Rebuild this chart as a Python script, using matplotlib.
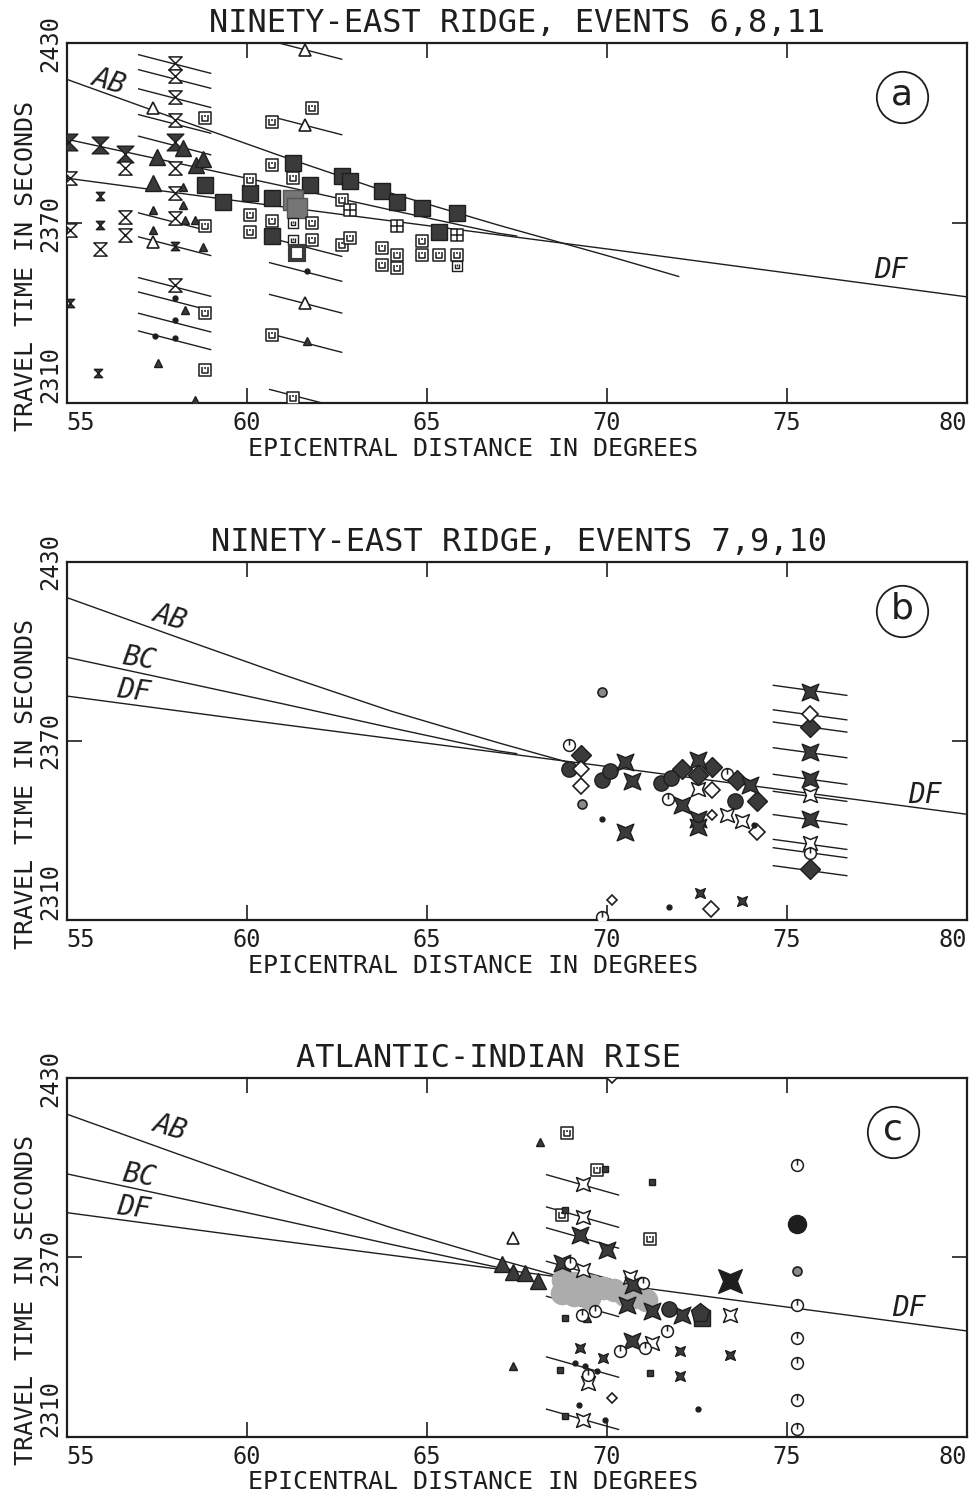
import numpy as np
import matplotlib
matplotlib.use("Agg")
import matplotlib.pyplot as plt
from matplotlib.path import Path

plt.rcParams['font.family'] = ['DejaVu Sans Mono', 'DejaVu Sans']
INK = '#1e1e1e'
SHADE = '#3a3a3a'

# --- travel time curves (distance in degrees, time in seconds) ---
AB_D = [55, 58, 61, 64, 67, 70, 72]
AB_T = [2418.0, 2405.0, 2392.2, 2380.0, 2369.3, 2359.2, 2352.2]
BC_D = [55, 58, 61, 64, 67, 67.5]
BC_T = [2398.0, 2390.2, 2382.4, 2374.4, 2366.6, 2365.7]
DF_D = [55, 60, 65, 70, 75, 80]
DF_T = [2385.0, 2377.0, 2369.2, 2361.4, 2353.4, 2345.4]
AB_END = [72.0, 69.0, 68.8]

# --- panel a: Ninety-East Ridge, events 6,8,11 ---
A_HG_BIG = [(55.07, 2397.0), (55.92, 2396.0), (56.62, 2393.0), (58.0, 2397.2)]
A_HG_SMALL = [(55.92, 2378.9), (55.92, 2369.4), (55.1, 2343.3), (55.88, 2320.0), (58.0, 2362.3)]
A_HG_OPEN = [(58.0, 2423.3), (58.0, 2419.0), (58.0, 2412.2), (58.0, 2404.4), (58.0, 2388.3),
             (58.0, 2380.0), (58.0, 2371.7), (58.0, 2349.4), (55.08, 2385.0), (55.08, 2367.8),
             (56.62, 2388.3), (56.62, 2372.2), (56.62, 2366.1), (55.92, 2361.4)]
A_TRI_BIG = [(57.5, 2392.2), (57.4, 2383.3), (58.24, 2395.0), (58.6, 2389.4), (58.8, 2391.3)]
A_TRI_SMALL = [(58.24, 2382.2), (58.24, 2376.1), (57.4, 2374.5), (57.4, 2367.8), (58.3, 2371.0),
               (58.56, 2371.1), (58.8, 2362.2), (58.29, 2341.1), (57.55, 2323.3), (58.56, 2311.1),
               (61.67, 2330.6)]
A_TRI_OPEN = [(57.4, 2408.3), (57.4, 2363.6), (61.62, 2427.8), (61.62, 2402.8), (61.62, 2343.3)]
A_SQ_BIG = [(58.84, 2382.6), (59.35, 2377.2), (60.1, 2380.0), (60.7, 2378.4), (60.7, 2365.6),
            (61.3, 2390.0), (61.76, 2382.8), (62.64, 2385.6), (62.87, 2383.9), (63.75, 2380.6),
            (64.17, 2377.2), (64.86, 2375.0), (65.84, 2373.4), (65.33, 2367.2)]
A_SQ_GREY = [(61.3, 2377.8), (61.4, 2375.0)]
A_SQ_OPEN = [(58.84, 2405.0), (58.84, 2369.0), (58.84, 2340.0), (58.84, 2321.1), (60.7, 2403.9),
             (61.81, 2408.3), (60.7, 2389.5), (61.3, 2385.0), (60.1, 2384.5), (60.1, 2372.8),
             (60.1, 2367.2), (60.7, 2370.6), (61.81, 2370.0), (61.81, 2364.5), (62.64, 2377.8),
             (62.64, 2362.8), (62.87, 2365.0), (63.75, 2361.7), (63.75, 2356.1), (64.17, 2359.5),
             (64.17, 2355.0), (64.86, 2363.9), (64.86, 2359.5), (65.33, 2359.5), (65.84, 2359.5),
             (60.7, 2332.8), (61.3, 2311.5)]
A_SQ_SOPEN = [(61.3, 2370.0), (61.3, 2364.5), (65.84, 2355.6)]
A_SQ_PLUS = [(62.87, 2374.5), (64.17, 2368.9), (65.84, 2366.1)]
A_SQ_RING = [(61.39, 2360.0)]
A_DOT = [(58.0, 2345.0), (58.0, 2337.8), (58.0, 2331.7), (61.67, 2353.9), (57.45, 2332.2)]
A_SEG = [(58.0, 2423.1), (58.0, 2418.1), (58.0, 2411.7), (58.0, 2403.1), (58.0, 2395.9),
         (58.0, 2370.3), (58.0, 2362.3), (58.0, 2348.7), (58.0, 2343.9), (58.0, 2336.8),
         (58.0, 2330.9), (61.64, 2427.8), (61.64, 2402.6), (61.64, 2362.0), (61.64, 2353.7),
         (61.64, 2343.1), (61.64, 2330.0), (61.64, 2311.4)]

# --- panel b: Ninety-East Ridge, events 7,9,10 ---
B_CIRC_OPEN = [(68.95, 2368.5), (73.34, 2359.0), (71.7, 2350.6), (69.86, 2311.1), (75.65, 2332.3)]
B_CIRC_DOT = [(69.86, 2386.4), (69.31, 2349.0)]
B_CIRC_FILL = [(68.95, 2360.7), (69.86, 2357.0), (70.1, 2359.8), (71.5, 2356.0), (71.8, 2357.6),
               (73.57, 2350.0)]
B_DIA_FILL = [(69.28, 2365.2), (72.09, 2360.7), (72.92, 2361.2), (72.55, 2358.4), (73.61, 2356.8),
              (74.17, 2350.0), (75.65, 2374.6), (75.65, 2327.1)]
B_DIA_OPEN = [(69.3, 2360.7), (69.3, 2355.0), (72.92, 2353.4), (74.17, 2339.4), (72.89, 2313.7),
              (75.65, 2379.1)]
B_DIA_SMALL = [(70.14, 2316.7), (72.92, 2345.0)]
B_STAR_FILL = [(70.51, 2362.9), (70.7, 2356.5), (72.09, 2348.4), (72.55, 2363.5), (72.55, 2343.9),
               (72.55, 2341.1), (73.98, 2355.1), (70.51, 2339.4), (75.65, 2386.4), (75.65, 2366.2),
               (75.65, 2357.3), (75.65, 2343.9)]
B_STAR_OPEN = [(72.55, 2354.0), (73.34, 2345.0), (73.75, 2343.3), (75.65, 2335.7), (75.65, 2351.7)]
B_STAR_SMALL = [(72.58, 2318.9), (73.75, 2316.2)]
B_DOT = [(69.86, 2343.7), (71.72, 2314.2), (74.08, 2341.7)]
B_SEG = [(75.65, 2386.9), (75.65, 2378.7), (75.65, 2374.6), (75.65, 2366.0), (75.65, 2357.1),
         (75.65, 2351.4), (75.65, 2343.6), (75.65, 2335.3), (75.65, 2332.5), (75.65, 2326.5)]

# --- panel c: Atlantic-Indian Rise ---
C_BLOB = [(68.8, 2362.5), (69.1, 2361.5), (69.3, 2360.0), (69.6, 2360.5), (69.9, 2359.6),
          (70.2, 2359.2), (70.5, 2357.5), (70.8, 2356.8), (71.1, 2355.8), (68.75, 2358.0),
          (69.1, 2357.5), (69.5, 2356.5)]
C_TRI_BIG = [(67.1, 2367.8), (67.41, 2365.0), (67.73, 2364.8), (68.1, 2362.0)]
C_TRI_SMALL = [(68.15, 2408.8), (67.41, 2333.5), (69.45, 2349.7)]
C_TRI_OPEN = [(67.41, 2376.5)]
C_SQ_OPEN = [(68.89, 2411.6), (69.73, 2399.3), (68.75, 2384.3), (71.21, 2376.1)]
C_SQ_SMALL = [(69.96, 2399.5), (71.25, 2395.1), (68.85, 2349.7), (71.21, 2331.3), (68.71, 2332.4),
              (68.85, 2316.8), (68.85, 2386.0)]
C_SQ_BIG = [(72.64, 2349.7)]
C_PENT = [(72.6, 2351.4)]
C_STAR_OPEN = [(69.35, 2394.6), (69.35, 2383.5), (69.35, 2365.9), (70.65, 2363.6), (71.25, 2341.4),
               (69.49, 2328.0), (69.35, 2315.7), (73.43, 2350.8)]
C_STAR_FILL = [(69.26, 2377.6), (70.0, 2372.6), (68.75, 2368.1), (70.74, 2360.9), (70.56, 2354.2),
               (71.25, 2352.0), (72.09, 2350.8), (70.7, 2341.9)]
C_STAR_BIG = [(73.43, 2362.0)]
C_STAR_SMALL = [(69.26, 2339.7), (69.91, 2336.3), (72.04, 2338.6), (72.04, 2330.2), (73.43, 2337.4)]
C_CIRC_OPEN = [(68.98, 2368.1), (69.31, 2350.8), (69.68, 2352.0), (71.67, 2345.3), (70.37, 2338.6),
               (71.07, 2339.7), (69.49, 2330.8), (71.0, 2361.3), (75.3, 2401.0), (75.3, 2354.2),
               (75.3, 2343.0), (75.3, 2334.6), (75.3, 2322.4), (75.3, 2312.4)]
C_CIRC_FILL = [(71.72, 2352.7)]
C_CIRC_BIG = [(75.3, 2381.3)]
C_CIRC_DOT = [(75.3, 2365.3)]
C_DOT = [(69.12, 2334.7), (69.4, 2333.8), (69.73, 2331.9), (69.22, 2320.7), (72.55, 2319.2),
         (69.96, 2315.5)]
C_DIA_SMALL = [(70.14, 2322.9), (70.14, 2430.0)]
C_SEG = [(69.33, 2394.3), (69.33, 2383.5), (69.33, 2376.5), (69.33, 2365.3), (69.33, 2353.6),
         (69.33, 2333.3), (69.33, 2315.8)]

TITLES = ['NINETY-EAST RIDGE, EVENTS 6,8,11', 'NINETY-EAST RIDGE, EVENTS 7,9,10',
          'ATLANTIC-INDIAN RISE']
TITLE_X = [0.5, 0.503, 0.469]
LETTERS = ['a', 'b', 'c']
LETTER_POS = [(78.2, 2412.0), (78.2, 2413.5), (77.95, 2412.0)]
SEG_SLOPE = [-3.1, -1.65, -3.4]
SEG_HALF = [1.0, 1.02, 1.0]
DF_RIGHT_POS = [(77.9, 2354.5), (78.85, 2352.0), (78.4, 2353.0)]

# --- marker shapes ---
HOURGLASS = Path([(-1, 1), (1, 1), (-1, -1), (1, -1), (-1, 1)],
                 [Path.MOVETO, Path.LINETO, Path.LINETO, Path.LINETO, Path.CLOSEPOLY])
STAR4 = Path([(1, 1), (0, 0.58), (-1, 1), (-0.58, 0), (-1, -1), (0, -0.58), (1, -1), (0.58, 0), (1, 1)],
             [Path.MOVETO] + [Path.LINETO] * 7 + [Path.CLOSEPOLY])
SQ_NOTCH = Path([(-1, -1), (1, -1), (1, 1), (-1, 1), (-1, -1),
                 (-0.5, 0.55), (-0.5, -0.4), (0.5, -0.4), (0.5, 0.55), (0, 0.55), (0, 0.1)],
                [Path.MOVETO, Path.LINETO, Path.LINETO, Path.LINETO, Path.CLOSEPOLY,
                 Path.MOVETO, Path.LINETO, Path.LINETO, Path.LINETO, Path.MOVETO, Path.LINETO])
SQ_PLUS = Path([(-1, -1), (1, -1), (1, 1), (-1, 1), (-1, -1), (-1, 0), (1, 0), (0, -1), (0, 1)],
               [Path.MOVETO, Path.LINETO, Path.LINETO, Path.LINETO, Path.CLOSEPOLY,
                Path.MOVETO, Path.LINETO, Path.MOVETO, Path.LINETO])
_circ = Path.unit_circle()
CIRC_TICK = Path(np.vstack([_circ.vertices, [(0, 0), (0, 1)]]),
                 list(_circ.codes) + [Path.MOVETO, Path.LINETO])

STYLES = {
    'blob': dict(marker='o', ms=17, mfc='#acacac', mec='none', mew=0),
    'hg_big': dict(marker=HOURGLASS, ms=12, mfc=SHADE, mec=INK, mew=1),
    'hg_small': dict(marker=HOURGLASS, ms=6, mfc=SHADE, mec=INK, mew=1),
    'hg_open': dict(marker=HOURGLASS, ms=9.5, mfc='white', mec=INK, mew=1.1),
    'tri_big': dict(marker='^', ms=12, mfc=SHADE, mec=INK, mew=1),
    'tri_small': dict(marker='^', ms=6, mfc=SHADE, mec=INK, mew=1),
    'tri_open': dict(marker='^', ms=8, mfc='white', mec=INK, mew=1.2),
    'sq_big': dict(marker='s', ms=12, mfc=SHADE, mec=INK, mew=1),
    'sq_grey': dict(marker='s', ms=14, mfc='#767676', mec='#555555', mew=1),
    'sq_open': dict(marker=SQ_NOTCH, ms=9, mfc='white', mec=INK, mew=1.1),
    'sq_sopen': dict(marker=SQ_NOTCH, ms=6.5, mfc='white', mec=INK, mew=1),
    'sq_plus': dict(marker=SQ_PLUS, ms=9, mfc='white', mec=INK, mew=1.1),
    'sq_ring': dict(marker='s', ms=10, mfc='white', mec=SHADE, mew=3),
    'sq_small': dict(marker='s', ms=4.5, mfc=SHADE, mec=INK, mew=1),
    'dot': dict(marker='o', ms=3.5, mfc=INK, mec=INK, mew=1),
    'circ_open': dict(marker=CIRC_TICK, ms=8.5, mfc='white', mec=INK, mew=1.1),
    'circ_dot': dict(marker='o', ms=6.5, mfc='#8a8a8a', mec=INK, mew=1.2),
    'circ_fill': dict(marker='o', ms=11, mfc=SHADE, mec=INK, mew=1),
    'circ_big': dict(marker='o', ms=13, mfc=INK, mec=INK, mew=1),
    'dia_fill': dict(marker='D', ms=10, mfc=SHADE, mec=INK, mew=1),
    'dia_open': dict(marker='D', ms=8.5, mfc='white', mec=INK, mew=1.2),
    'dia_small': dict(marker='D', ms=5.5, mfc='white', mec=INK, mew=1.2),
    'star_fill': dict(marker=STAR4, ms=12, mfc=SHADE, mec=INK, mew=1),
    'star_open': dict(marker=STAR4, ms=10, mfc='white', mec=INK, mew=1.1),
    'star_small': dict(marker=STAR4, ms=7, mfc=SHADE, mec=INK, mew=1),
    'star_big': dict(marker=STAR4, ms=17, mfc=INK, mec=INK, mew=1),
    'pent': dict(marker='p', ms=14, mfc=SHADE, mec=INK, mew=1),
}

PANEL_MARKS = [
    [('hg_big', A_HG_BIG), ('hg_small', A_HG_SMALL), ('hg_open', A_HG_OPEN),
     ('tri_big', A_TRI_BIG), ('tri_small', A_TRI_SMALL), ('tri_open', A_TRI_OPEN),
     ('sq_big', A_SQ_BIG), ('sq_grey', A_SQ_GREY), ('sq_open', A_SQ_OPEN),
     ('sq_sopen', A_SQ_SOPEN), ('sq_plus', A_SQ_PLUS), ('sq_ring', A_SQ_RING), ('dot', A_DOT)],
    [('circ_open', B_CIRC_OPEN), ('circ_dot', B_CIRC_DOT), ('circ_fill', B_CIRC_FILL),
     ('dia_fill', B_DIA_FILL), ('dia_open', B_DIA_OPEN), ('dia_small', B_DIA_SMALL),
     ('star_fill', B_STAR_FILL), ('star_open', B_STAR_OPEN), ('star_small', B_STAR_SMALL),
     ('dot', B_DOT)],
    [('blob', C_BLOB), ('tri_big', C_TRI_BIG), ('tri_small', C_TRI_SMALL), ('tri_open', C_TRI_OPEN),
     ('sq_open', C_SQ_OPEN), ('sq_small', C_SQ_SMALL), ('sq_big', C_SQ_BIG), ('pent', C_PENT),
     ('star_open', C_STAR_OPEN), ('star_fill', C_STAR_FILL), ('star_big', C_STAR_BIG),
     ('star_small', C_STAR_SMALL), ('circ_open', C_CIRC_OPEN), ('circ_fill', C_CIRC_FILL),
     ('circ_big', C_CIRC_BIG), ('circ_dot', C_CIRC_DOT), ('dot', C_DOT), ('dia_small', C_DIA_SMALL)],
]
PANEL_SEGS = [A_SEG, B_SEG, C_SEG]

AX_RECTS = [(0.068, 0.7312, 0.9184, 0.2399), (0.068, 0.3863, 0.9184, 0.2390),
            (0.068, 0.0416, 0.9184, 0.2391)]

fig = plt.figure(figsize=(9.8, 14.99), dpi=100)

for i in range(3):
    ax = fig.add_axes(AX_RECTS[i])
    ax.set_xlim(55, 80)
    ax.set_ylim(2310, 2430)

    # travel time curves
    ab_x = np.linspace(55, AB_END[i], 60)
    ax.plot(ab_x, np.interp(ab_x, AB_D, AB_T), color=INK, lw=1.0, zorder=1)
    ax.plot(BC_D, BC_T, color=INK, lw=1.0, zorder=1)
    ax.plot(DF_D, DF_T, color=INK, lw=1.0, zorder=1)

    # short station lines
    s, h = SEG_SLOPE[i], SEG_HALF[i]
    for d, t in PANEL_SEGS[i]:
        ax.plot([d - h, d + h], [t - s * h, t + s * h], color=INK, lw=1.0, zorder=1)

    for kind, pts in PANEL_MARKS[i]:
        xs = [p[0] for p in pts]
        ys = [p[1] for p in pts]
        ax.plot(xs, ys, ls='none', zorder=3 if kind != 'blob' else 2, **STYLES[kind])

    # curve labels
    if i == 0:
        ax.text(55.6, 2417.5, 'AB', fontsize=20, style='italic', rotation=-17,
                ha='left', va='center', color=INK)
    else:
        ax.text(57.3, 2411.5 if i == 1 else 2413.5, 'AB', fontsize=20, style='italic',
                rotation=-17, ha='left', va='center', color=INK)
        ax.text(56.5, 2397.5, 'BC', fontsize=20, style='italic', rotation=-9,
                ha='left', va='center', color=INK)
        ax.text(56.35, 2386.5, 'DF', fontsize=20, style='italic', rotation=-7,
                ha='left', va='center', color=INK)
    ax.text(DF_RIGHT_POS[i][0], DF_RIGHT_POS[i][1], 'DF', fontsize=20, style='italic',
            ha='center', va='center', color=INK)

    # circled panel letter
    lx, ly = LETTER_POS[i]
    ax.plot([lx], [ly], ls='none', marker='o', ms=37, mfc='none', mec=INK, mew=1.3)
    ax.text(lx, ly + 0.8, LETTERS[i], fontsize=26, ha='center', va='center', color=INK,
            family=['DejaVu Sans'])

    # axes styling
    for sp in ax.spines.values():
        sp.set_linewidth(1.6)
        sp.set_color(INK)
    ax.set_xticks([55, 60, 65, 70, 75, 80])
    ax.set_yticks([2310, 2370, 2430])
    ax.tick_params(direction='in', length=11, width=1.2, top=True, right=True,
                   labelsize=17, colors=INK, pad=6)
    ax.tick_params(axis='y', pad=3)
    xl = ax.set_xticklabels(['55', '60', '65', '70', '75', '80'])
    xl[0].set_ha('left')
    xl[-1].set_ha('right')
    yl = ax.set_yticklabels(['2310', '2370', '2430'], rotation=90, va='center')
    yl[0].set_va('bottom')
    ax.set_xlabel('EPICENTRAL DISTANCE IN DEGREES', fontsize=18, color=INK, labelpad=1, x=0.451)
    ax.set_ylabel('TRAVEL TIME IN SECONDS', fontsize=18, color=INK)
    ax.yaxis.set_label_coords(-0.032, 0.38)
    ax.set_title(TITLES[i], fontsize=23, color=INK, pad=8, x=TITLE_X[i])

fig.savefig('out.png', dpi=100, facecolor='white')
